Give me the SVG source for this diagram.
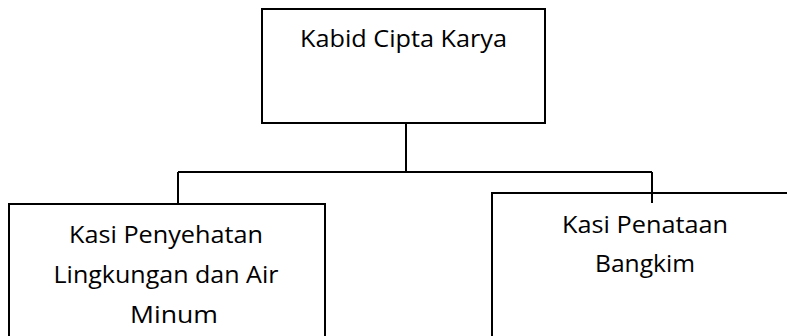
<svg xmlns="http://www.w3.org/2000/svg" width="787" height="336" viewBox="0 0 787 336">
  <style>
    .box { fill: #ffffff; stroke: #000000; stroke-width: 2; }
    .conn { fill: none; stroke: #000000; stroke-width: 2; }
    .lbl { font-family: "Open Sans", "Noto Sans", sans-serif; font-size: 23px; fill: #000000; text-anchor: middle; }
  </style>
  <rect width="787" height="336" fill="#ffffff"/>
  <g id="connectors">
    <line class="conn" x1="406" y1="123" x2="406" y2="172"/>
    <line class="conn" x1="178" y1="172" x2="652" y2="172"/>
    <line class="conn" x1="178" y1="172" x2="178" y2="204"/>
  </g>
  <g id="kabid">
    <rect class="box" x="262" y="9" width="283" height="114"/>
    <text class="lbl" x="403.5" y="47" textLength="207" lengthAdjust="spacingAndGlyphs">Kabid Cipta Karya</text>
  </g>
  <g id="kasi-penyehatan">
    <rect class="box" x="9" y="204" width="316" height="140"/>
    <text class="lbl" x="166" y="243" textLength="194" lengthAdjust="spacingAndGlyphs">Kasi Penyehatan</text>
    <text class="lbl" x="166" y="283" textLength="225" lengthAdjust="spacingAndGlyphs">Lingkungan dan Air</text>
    <text class="lbl" x="174" y="323" textLength="88" lengthAdjust="spacingAndGlyphs">Minum</text>
  </g>
  <g id="kasi-penataan">
    <rect class="box" x="492" y="193" width="310" height="150"/>
    <text class="lbl" x="645" y="233" textLength="166" lengthAdjust="spacingAndGlyphs">Kasi Penataan</text>
    <text class="lbl" x="645" y="272" textLength="100" lengthAdjust="spacingAndGlyphs">Bangkim</text>
  </g>
  <g id="connectors-over">
    <line class="conn" x1="652" y1="172" x2="652" y2="203"/>
  </g>
</svg>
